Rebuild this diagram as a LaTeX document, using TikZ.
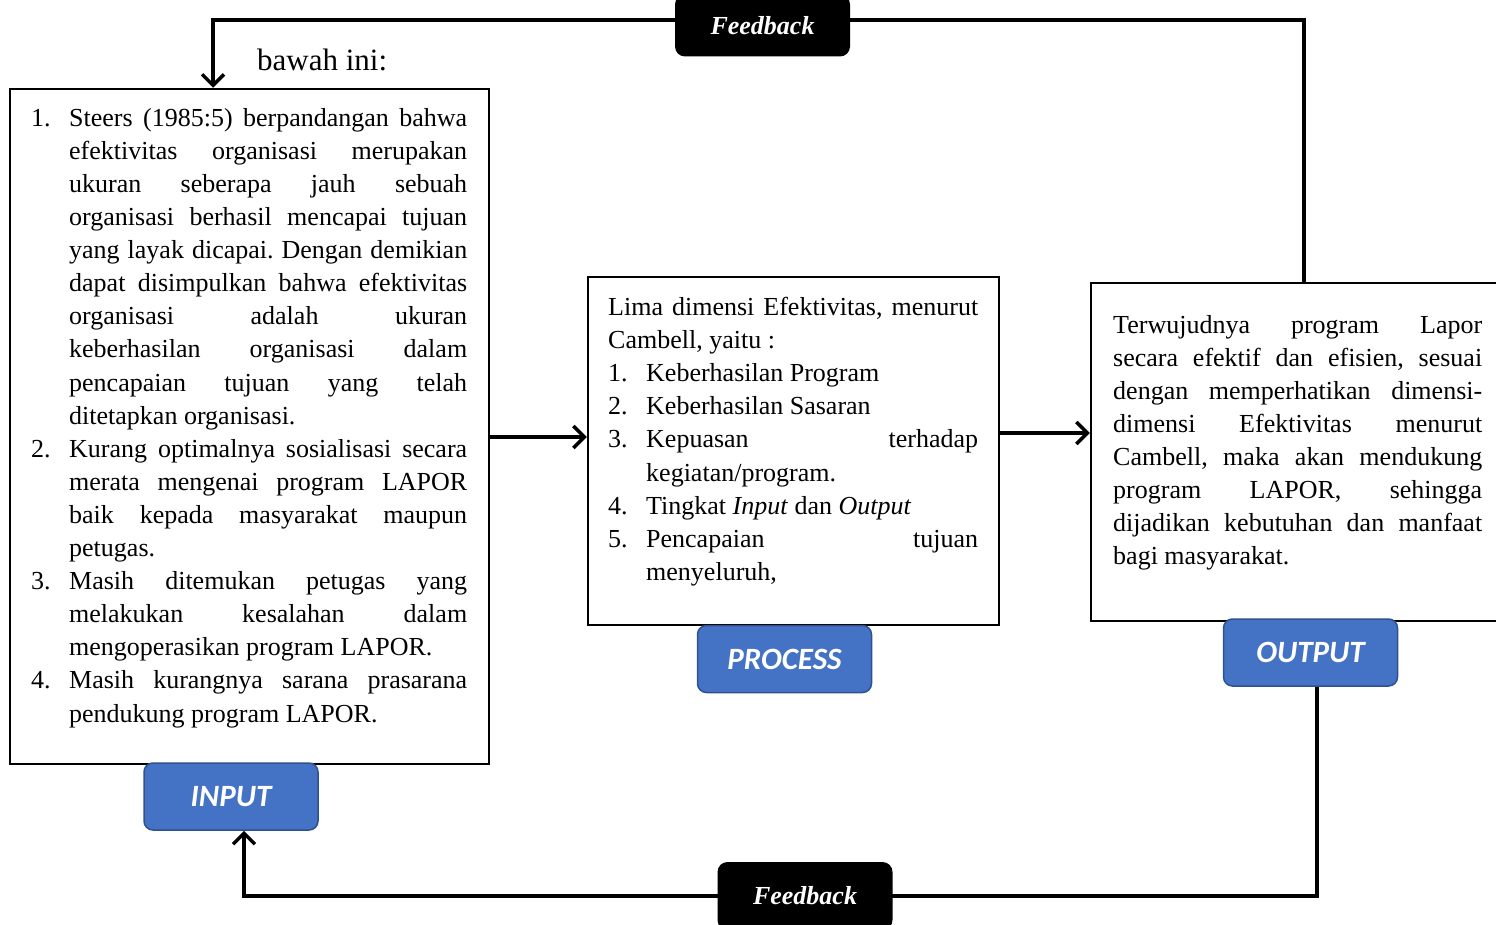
\documentclass[tikz,border=0pt]{standalone}
\usepackage{fontspec}
\setmainfont{Liberation Serif}
\newfontfamily\labelfont{Carlito}
\usetikzlibrary{arrows.meta}
\frenchspacing

\definecolor{labelblue}{HTML}{4472C4}
\definecolor{labeledge}{HTML}{2F528F}

\newcommand\listitem[2]{\par\hangindent=38pt\hangafter=1\noindent\makebox[38pt][l]{#1}#2\par}

\tikzset{
  textbox/.style={draw, line width=2.5pt, inner sep=0pt},
  bodytext/.style={anchor=north west, inner sep=0pt, align=justify, font=\fontsize{26}{33.1}\selectfont},
  tag/.style={fill=labelblue, draw=labeledge, line width=1.5pt, rounded corners=9pt, text=white, inner sep=0pt, minimum width=174pt, minimum height=67pt, font=\labelfont\bfseries\itshape\fontsize{31}{31}\selectfont},
  fbtag/.style={fill=black, rounded corners=10pt, text=white, inner sep=0pt, minimum width=175pt, minimum height=62pt, font=\bfseries\itshape\fontsize{26}{26}\selectfont},
  flow/.style={line width=3.5pt},
  flowarrow/.style={flow, -{Straight Barb[length=11pt,width=22pt,line width=3.5pt]}},
}

\begin{document}
\begin{tikzpicture}[x=1pt, y=-1pt]
\useasboundingbox (0,0) rectangle (1496,925);

% page text above the figure
\node (pagetext) at (257,60) [anchor=west, inner sep=0pt, font=\fontsize{31}{31}\selectfont] {bawah ini:};

% boxes
\node (inbox) at (249.5,426.5) [textbox, minimum width=479pt, minimum height=675pt] {};
\node (procbox) at (793.5,451) [textbox, minimum width=411pt, minimum height=348pt] {};
\node (outbox) at (1296,452) [textbox, minimum width=410pt, minimum height=338pt] {};

\node (intext) at (31,93) [bodytext, text width=436pt] {%
\listitem{1.}{Steers (1985:5) berpandangan bahwa\linebreak efektivitas organisasi merupakan\linebreak ukuran seberapa jauh sebuah\linebreak organisasi berhasil mencapai tujuan\linebreak yang layak dicapai. Dengan demikian\linebreak dapat disimpulkan bahwa efektivitas\linebreak organisasi adalah ukuran\linebreak keberhasilan organisasi dalam\linebreak pencapaian tujuan yang telah\linebreak ditetapkan organisasi.}
\listitem{2.}{Kurang optimalnya sosialisasi secara\linebreak merata mengenai program LAPOR\linebreak baik kepada masyarakat maupun\linebreak petugas.}
\listitem{3.}{Masih ditemukan petugas yang\linebreak melakukan kesalahan dalam\linebreak mengoperasikan program LAPOR.}
\listitem{4.}{Masih kurangnya sarana prasarana\linebreak pendukung program LAPOR.}};

\node (proctext) at (608,297) [bodytext, text width=370pt] {%
\noindent Lima dimensi Efektivitas, menurut\linebreak Cambell, yaitu :\par
\listitem{1.}{Keberhasilan Program}
\listitem{2.}{Keberhasilan Sasaran}
\listitem{3.}{Kepuasan terhadap\linebreak kegiatan/program.}
\listitem{4.}{Tingkat \textit{Input} dan \textit{Output}}
\listitem{5.}{Pencapaian tujuan\linebreak menyeluruh,}};

\node (outtext) at (1113,315) [bodytext, text width=369pt] {%
\noindent Terwujudnya program Lapor\linebreak secara efektif dan efisien, sesuai\linebreak dengan memperhatikan dimensi-\linebreak dimensi Efektivitas menurut\linebreak Cambell, maka akan mendukung\linebreak program LAPOR, sehingga\linebreak dijadikan kebutuhan dan manfaat\linebreak bagi masyarakat.};

% labels
\node (inlbl) at (231,796.5) [tag] {INPUT};
\node (proclbl) at (784.5,659) [tag] {PROCESS};
\node (outlbl) at (1310.5,652.5) [tag] {OUTPUT};

% connectors
\draw [flowarrow] (inbox.east |- 0,437) -- (procbox.west |- 0,437);
\draw [flowarrow] (procbox.east |- 0,433) -- (outbox.west |- 0,433);

\coordinate (topright) at (1304,20);
\coordinate (topleft) at (213,20);
\draw [flowarrow] (outbox.north -| topright) -- (topright) -- (topleft) -- (inbox.north -| topleft);

\coordinate (botright) at (1317,896);
\coordinate (botleft) at (244,896);
\draw [flowarrow] (outlbl.south -| botright) -- (botright) -- (botleft) -- (inlbl.south -| botleft);

% feedback tags
\node (fbtop) at (762.5,25.5) [fbtag] {Feedback};
\node (fbbottom) at (805,896) [fbtag, minimum height=68pt] {Feedback};

\end{tikzpicture}
\end{document}
